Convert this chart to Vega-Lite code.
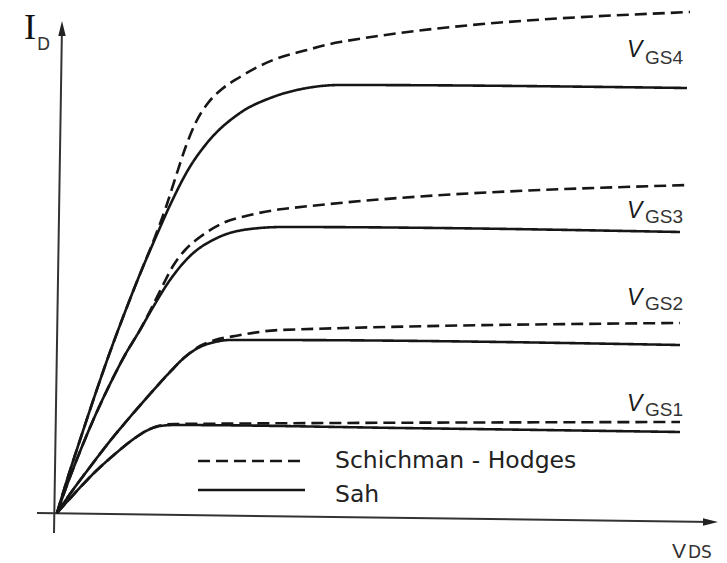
{
  "$schema": "https://vega.github.io/schema/vega-lite/v6.json",
  "width": 727,
  "height": 563,
  "autosize": {"type": "fit", "contains": "padding"},
  "padding": 0,
  "background": "white",
  "config": {"view": {"stroke": null}},
  "encoding": {
    "x": {"field": "x", "type": "quantitative", "scale": {"domain": [-5.7, 67.0], "nice": false, "zero": false}, "axis": null},
    "y": {"field": "y", "type": "quantitative", "scale": {"domain": [-5.0, 51.3], "nice": false, "zero": false}, "axis": null}
  },
  "datasets": {
    "curves": [
      {"curve": "VGS4", "model": "Sah", "x": 0, "y": 0},
      {"curve": "VGS4", "model": "Sah", "x": 1.0, "y": 3.3},
      {"curve": "VGS4", "model": "Sah", "x": 2.3, "y": 7.3},
      {"curve": "VGS4", "model": "Sah", "x": 3.8, "y": 11.8},
      {"curve": "VGS4", "model": "Sah", "x": 5.3, "y": 16.1},
      {"curve": "VGS4", "model": "Sah", "x": 6.8, "y": 20.1},
      {"curve": "VGS4", "model": "Sah", "x": 8.3, "y": 23.9},
      {"curve": "VGS4", "model": "Sah", "x": 9.8, "y": 27.4},
      {"curve": "VGS4", "model": "Sah", "x": 11.5, "y": 31.2},
      {"curve": "VGS4", "model": "Sah", "x": 13.1, "y": 34.3},
      {"curve": "VGS4", "model": "Sah", "x": 15.0, "y": 37.0},
      {"curve": "VGS4", "model": "Sah", "x": 18.3, "y": 40.0},
      {"curve": "VGS4", "model": "Sah", "x": 21.6, "y": 41.6},
      {"curve": "VGS4", "model": "Sah", "x": 25.0, "y": 42.5},
      {"curve": "VGS4", "model": "Sah", "x": 28.3, "y": 42.8},
      {"curve": "VGS4", "model": "Sah", "x": 63.0, "y": 42.5},

      {"curve": "VGS4", "model": "Schichman - Hodges", "x": 0, "y": 0},
      {"curve": "VGS4", "model": "Schichman - Hodges", "x": 1.0, "y": 3.3},
      {"curve": "VGS4", "model": "Schichman - Hodges", "x": 2.3, "y": 7.3},
      {"curve": "VGS4", "model": "Schichman - Hodges", "x": 3.8, "y": 11.8},
      {"curve": "VGS4", "model": "Schichman - Hodges", "x": 5.3, "y": 16.1},
      {"curve": "VGS4", "model": "Schichman - Hodges", "x": 6.8, "y": 20.1},
      {"curve": "VGS4", "model": "Schichman - Hodges", "x": 8.3, "y": 23.9},
      {"curve": "VGS4", "model": "Schichman - Hodges", "x": 9.8, "y": 27.6},
      {"curve": "VGS4", "model": "Schichman - Hodges", "x": 10.9, "y": 30.6},
      {"curve": "VGS4", "model": "Schichman - Hodges", "x": 11.9, "y": 33.7},
      {"curve": "VGS4", "model": "Schichman - Hodges", "x": 12.9, "y": 36.7},
      {"curve": "VGS4", "model": "Schichman - Hodges", "x": 13.9, "y": 39.1},
      {"curve": "VGS4", "model": "Schichman - Hodges", "x": 15.1, "y": 41.0},
      {"curve": "VGS4", "model": "Schichman - Hodges", "x": 16.5, "y": 42.4},
      {"curve": "VGS4", "model": "Schichman - Hodges", "x": 18.3, "y": 43.6},
      {"curve": "VGS4", "model": "Schichman - Hodges", "x": 21.6, "y": 45.3},
      {"curve": "VGS4", "model": "Schichman - Hodges", "x": 25.0, "y": 46.3},
      {"curve": "VGS4", "model": "Schichman - Hodges", "x": 28.3, "y": 47.1},
      {"curve": "VGS4", "model": "Schichman - Hodges", "x": 63.3, "y": 50.1},

      {"curve": "VGS3", "model": "Sah", "x": 0, "y": 0},
      {"curve": "VGS3", "model": "Sah", "x": 1.0, "y": 2.8},
      {"curve": "VGS3", "model": "Sah", "x": 2.3, "y": 6.15},
      {"curve": "VGS3", "model": "Sah", "x": 3.8, "y": 9.7},
      {"curve": "VGS3", "model": "Sah", "x": 5.3, "y": 12.9},
      {"curve": "VGS3", "model": "Sah", "x": 6.8, "y": 15.8},
      {"curve": "VGS3", "model": "Sah", "x": 8.3, "y": 18.3},
      {"curve": "VGS3", "model": "Sah", "x": 9.5, "y": 20.4},
      {"curve": "VGS3", "model": "Sah", "x": 11.3, "y": 23.3},
      {"curve": "VGS3", "model": "Sah", "x": 13.3, "y": 25.7},
      {"curve": "VGS3", "model": "Sah", "x": 16.0, "y": 27.5},
      {"curve": "VGS3", "model": "Sah", "x": 19.3, "y": 28.4},
      {"curve": "VGS3", "model": "Sah", "x": 22.6, "y": 28.6},
      {"curve": "VGS3", "model": "Sah", "x": 62.3, "y": 28.1},

      {"curve": "VGS3", "model": "Schichman - Hodges", "x": 0, "y": 0},
      {"curve": "VGS3", "model": "Schichman - Hodges", "x": 1.0, "y": 2.8},
      {"curve": "VGS3", "model": "Schichman - Hodges", "x": 2.3, "y": 6.15},
      {"curve": "VGS3", "model": "Schichman - Hodges", "x": 3.8, "y": 9.7},
      {"curve": "VGS3", "model": "Schichman - Hodges", "x": 5.3, "y": 12.9},
      {"curve": "VGS3", "model": "Schichman - Hodges", "x": 6.8, "y": 15.8},
      {"curve": "VGS3", "model": "Schichman - Hodges", "x": 8.3, "y": 18.3},
      {"curve": "VGS3", "model": "Schichman - Hodges", "x": 9.5, "y": 20.6},
      {"curve": "VGS3", "model": "Schichman - Hodges", "x": 10.6, "y": 22.8},
      {"curve": "VGS3", "model": "Schichman - Hodges", "x": 11.6, "y": 24.7},
      {"curve": "VGS3", "model": "Schichman - Hodges", "x": 12.9, "y": 26.4},
      {"curve": "VGS3", "model": "Schichman - Hodges", "x": 14.3, "y": 27.6},
      {"curve": "VGS3", "model": "Schichman - Hodges", "x": 16.6, "y": 29.0},
      {"curve": "VGS3", "model": "Schichman - Hodges", "x": 19.3, "y": 29.8},
      {"curve": "VGS3", "model": "Schichman - Hodges", "x": 22.6, "y": 30.4},
      {"curve": "VGS3", "model": "Schichman - Hodges", "x": 63.3, "y": 32.8},

      {"curve": "VGS2", "model": "Sah", "x": 0, "y": 0},
      {"curve": "VGS2", "model": "Sah", "x": 1.3, "y": 1.9},
      {"curve": "VGS2", "model": "Sah", "x": 3.3, "y": 4.6},
      {"curve": "VGS2", "model": "Sah", "x": 5.3, "y": 7.2},
      {"curve": "VGS2", "model": "Sah", "x": 7.3, "y": 9.6},
      {"curve": "VGS2", "model": "Sah", "x": 9.3, "y": 11.9},
      {"curve": "VGS2", "model": "Sah", "x": 11.3, "y": 14.1},
      {"curve": "VGS2", "model": "Sah", "x": 12.8, "y": 15.6},
      {"curve": "VGS2", "model": "Sah", "x": 14.3, "y": 16.6},
      {"curve": "VGS2", "model": "Sah", "x": 15.8, "y": 17.1},
      {"curve": "VGS2", "model": "Sah", "x": 17.3, "y": 17.3},
      {"curve": "VGS2", "model": "Sah", "x": 20.3, "y": 17.3},
      {"curve": "VGS2", "model": "Sah", "x": 62.3, "y": 16.8},

      {"curve": "VGS2", "model": "Schichman - Hodges", "x": 0, "y": 0},
      {"curve": "VGS2", "model": "Schichman - Hodges", "x": 1.3, "y": 1.9},
      {"curve": "VGS2", "model": "Schichman - Hodges", "x": 3.3, "y": 4.6},
      {"curve": "VGS2", "model": "Schichman - Hodges", "x": 5.3, "y": 7.2},
      {"curve": "VGS2", "model": "Schichman - Hodges", "x": 7.3, "y": 9.6},
      {"curve": "VGS2", "model": "Schichman - Hodges", "x": 9.3, "y": 11.9},
      {"curve": "VGS2", "model": "Schichman - Hodges", "x": 11.3, "y": 14.1},
      {"curve": "VGS2", "model": "Schichman - Hodges", "x": 12.8, "y": 15.6},
      {"curve": "VGS2", "model": "Schichman - Hodges", "x": 14.3, "y": 16.7},
      {"curve": "VGS2", "model": "Schichman - Hodges", "x": 15.8, "y": 17.3},
      {"curve": "VGS2", "model": "Schichman - Hodges", "x": 17.8, "y": 17.7},
      {"curve": "VGS2", "model": "Schichman - Hodges", "x": 22.3, "y": 18.3},
      {"curve": "VGS2", "model": "Schichman - Hodges", "x": 62.3, "y": 19.0},

      {"curve": "VGS1", "model": "Sah", "x": 0, "y": 0},
      {"curve": "VGS1", "model": "Sah", "x": 1.8, "y": 2.0},
      {"curve": "VGS1", "model": "Sah", "x": 3.8, "y": 4.1},
      {"curve": "VGS1", "model": "Sah", "x": 5.8, "y": 5.9},
      {"curve": "VGS1", "model": "Sah", "x": 7.8, "y": 7.5},
      {"curve": "VGS1", "model": "Sah", "x": 9.1, "y": 8.3},
      {"curve": "VGS1", "model": "Sah", "x": 10.3, "y": 8.7},
      {"curve": "VGS1", "model": "Sah", "x": 11.8, "y": 8.8},
      {"curve": "VGS1", "model": "Sah", "x": 34.3, "y": 8.5},
      {"curve": "VGS1", "model": "Sah", "x": 62.3, "y": 8.1},

      {"curve": "VGS1", "model": "Schichman - Hodges", "x": 0, "y": 0},
      {"curve": "VGS1", "model": "Schichman - Hodges", "x": 1.8, "y": 2.0},
      {"curve": "VGS1", "model": "Schichman - Hodges", "x": 3.8, "y": 4.1},
      {"curve": "VGS1", "model": "Schichman - Hodges", "x": 5.8, "y": 5.9},
      {"curve": "VGS1", "model": "Schichman - Hodges", "x": 7.8, "y": 7.5},
      {"curve": "VGS1", "model": "Schichman - Hodges", "x": 9.1, "y": 8.3},
      {"curve": "VGS1", "model": "Schichman - Hodges", "x": 10.3, "y": 8.75},
      {"curve": "VGS1", "model": "Schichman - Hodges", "x": 11.8, "y": 8.9},
      {"curve": "VGS1", "model": "Schichman - Hodges", "x": 62.3, "y": 9.1}
    ]
  },
  "layer": [
    {
      "data": {"values": [
        {"axis": "ID", "x": -0.3, "y": -2.0, "x2": 0.5, "y2": 48.8},
        {"axis": "VDS", "x": -2.0, "y": 0.0, "x2": 65.5, "y2": -0.9}
      ]},
      "mark": {"type": "rule", "color": "#333333", "strokeWidth": 2},
      "encoding": {
        "x2": {"field": "x2"},
        "y2": {"field": "y2"}
      }
    },
    {
      "data": {"values": [{"axis": "ID", "x": 0.5, "y": 48.45}]},
      "mark": {"type": "point", "shape": "M0,-1L0.5,1L-0.5,1Z", "size": 225, "filled": true, "color": "#222222", "opacity": 1}
    },
    {
      "data": {"values": [{"axis": "VDS", "x": 65.35, "y": -0.9}]},
      "mark": {"type": "point", "shape": "M1,0L-1,0.5L-1,-0.5Z", "size": 225, "filled": true, "color": "#222222", "opacity": 1}
    },
    {
      "data": {"name": "curves"},
      "mark": {"type": "line", "interpolate": "monotone", "color": "#161616", "strokeWidth": 2.6, "strokeCap": "butt"},
      "encoding": {
        "detail": {"field": "curve"},
        "strokeDash": {"field": "model", "type": "nominal", "scale": {"domain": ["Schichman - Hodges", "Sah"], "range": [[12, 6], [1, 0]]}, "legend": null}
      }
    },
    {
      "data": {"values": [
        {"model": "Schichman - Hodges", "x": 14.1, "x2": 24.8, "y": 5.2},
        {"model": "Sah", "x": 14.1, "x2": 24.8, "y": 2.3}
      ]},
      "mark": {"type": "rule", "color": "#161616", "strokeWidth": 2.6},
      "encoding": {
        "x2": {"field": "x2"},
        "strokeDash": {"field": "model", "type": "nominal", "legend": null}
      }
    },
    {
      "data": {"values": [
        {"label": "Schichman - Hodges", "x": 27.8, "y": 4.5},
        {"label": "Sah", "x": 27.8, "y": 1.1}
      ]},
      "mark": {"type": "text", "font": "DejaVu Sans", "fontSize": 23.5, "align": "left", "baseline": "alphabetic", "color": "#222222"},
      "encoding": {"text": {"field": "label"}}
    },
    {
      "data": {"values": [{"label": "I", "x": -3.3, "y": 47.4}]},
      "mark": {"type": "text", "font": "Liberation Serif", "fontSize": 36, "align": "left", "baseline": "alphabetic", "color": "#111111"},
      "encoding": {"text": {"field": "label"}}
    },
    {
      "data": {"values": [{"label": "D", "x": -2.0, "y": 46.3}]},
      "mark": {"type": "text", "font": "DejaVu Sans", "fontSize": 17, "align": "left", "baseline": "alphabetic", "color": "#333333"},
      "encoding": {"text": {"field": "label"}}
    },
    {
      "data": {"values": [
        {"label": "V", "x": 57.0, "y": 45.6},
        {"label": "V", "x": 57.0, "y": 29.5},
        {"label": "V", "x": 57.0, "y": 20.8},
        {"label": "V", "x": 57.0, "y": 10.2}
      ]},
      "mark": {"type": "text", "font": "Liberation Sans", "fontStyle": "italic", "fontSize": 23, "align": "left", "baseline": "alphabetic", "color": "#1a1a1a"},
      "encoding": {"text": {"field": "label"}}
    },
    {
      "data": {"values": [
        {"label": "GS4", "x": 58.8, "y": 44.9},
        {"label": "GS3", "x": 58.8, "y": 29.0},
        {"label": "GS2", "x": 58.8, "y": 20.3},
        {"label": "GS1", "x": 58.8, "y": 9.7}
      ]},
      "mark": {"type": "text", "font": "Liberation Sans", "fontSize": 19, "align": "left", "baseline": "alphabetic", "color": "#333333"},
      "encoding": {"text": {"field": "label"}}
    },
    {
      "data": {"values": [{"label": "V", "x": 61.5, "y": -4.5}]},
      "mark": {"type": "text", "font": "Liberation Sans", "fontSize": 21, "align": "left", "baseline": "alphabetic", "color": "#333333"},
      "encoding": {"text": {"field": "label"}}
    },
    {
      "data": {"values": [{"label": "DS", "x": 63.1, "y": -4.5}]},
      "mark": {"type": "text", "font": "DejaVu Sans", "fontSize": 17, "align": "left", "baseline": "alphabetic", "color": "#333333"},
      "encoding": {"text": {"field": "label"}}
    }
  ]
}
